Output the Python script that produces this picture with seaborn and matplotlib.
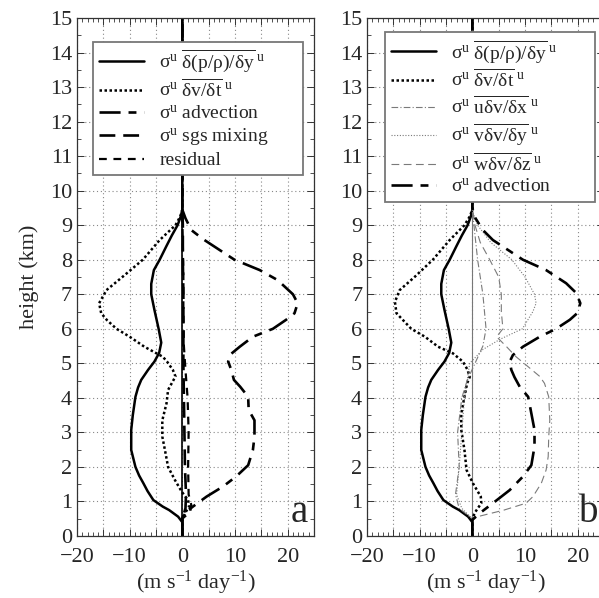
import matplotlib
matplotlib.use("Agg")
import matplotlib.pyplot as plt
from matplotlib.ticker import MultipleLocator, FuncFormatter
import seaborn as sns

# ---- budget profiles (m s-1 day-1) against height (km) ----
# pressure-gradient term (same profile in both panels)
h_pgf = [0, 0.4, 0.56, 0.75, 0.85, 1.04, 1.3, 1.53, 1.75, 2.0, 2.49, 3.07, 3.5, 4.03, 4.3,
         4.52, 4.81, 5.05, 5.3, 5.6, 6.0, 6.55, 7.0, 7.3, 7.7, 8.0, 8.4, 8.7, 9.0, 9.25, 9.45, 15]
pgf = [0, 0, -0.8, -2.5, -3.7, -5.5, -6.6, -7.4, -8.2, -8.9, -9.7, -9.7, -9.4, -8.9, -8.4,
       -7.8, -6.5, -5.3, -4.4, -4.0, -4.5, -5.3, -5.9, -5.9, -5.4, -4.3, -3.0, -2.0, -0.9, -0.3, 0, 0]

# panel a: tendency, advection, sgs mixing, residual
h_tend_a = [0, 0.47, 0.66, 0.85, 1.04, 1.28, 1.62, 2.0, 2.49, 2.88, 3.35, 3.84, 4.23, 4.62,
            4.81, 5.05, 5.19, 5.48, 5.77, 6.0, 6.25, 6.45, 6.74, 7.12, 7.51, 8.0, 8.57, 9.0,
            9.25, 9.45, 15]
tend_a = [0, 0, 0.5, 1.3, 1.1, -0.1, -1.4, -2.7, -3.3, -3.8, -3.8, -3.0, -2.7, -1.3,
          -1.8, -2.9, -3.7, -7.2, -10.0, -12.5, -14.3, -15.4, -15.8, -14.4, -11.3, -7.5, -4.3, -1.3,
          -0.4, 0, 0]

h_adv_a = [0, 0.52, 0.66, 0.85, 1.14, 1.43, 1.72, 2.05, 2.49, 2.88, 3.35, 3.65, 4.03, 4.32,
           4.52, 4.81, 5.05, 5.24, 5.48, 5.77, 6.0, 6.26, 6.45, 6.74, 7.0, 7.41, 7.7, 8.0, 8.28,
           8.6, 8.86, 9.2, 9.45, 15]
adv_a = [0, 0, 0.4, 2.0, 4.6, 7.7, 10.2, 12.5, 13.4, 13.7, 13.7, 12.6, 12.5, 11.0,
         9.8, 9.3, 8.7, 9.0, 10.9, 13.4, 17.2, 19.7, 21.3, 21.9, 21.0, 18.1, 14.7, 9.9, 7.1,
         3.9, 1.7, 0.6, 0, 0]

h_sgs = [0, 0.5, 0.8, 1.2, 2.0, 3.0, 4.0, 5.0, 6.0, 7.0, 8.0, 9.0, 9.5, 15]
sgs = [0, 0, 0.6, 0.7, 0.5, 0.4, 0.3, 0.2, 0.2, 0.2, 0.1, 0.1, 0, 0]

h_res = [0, 0.5, 0.7, 0.9, 1.2, 2.0, 3.0, 4.0, 4.8, 5.5, 6.5, 7.5, 8.5, 9.2, 9.5, 15]
res = [0, 0, 1.5, 1.7, 1.2, 1.1, 1.2, 1.0, 0.6, 0.3, 0.2, 0.2, 0.1, 0.0, 0, 0]

# panel b: tendency, advection and its three components
h_tend_b = [0, 0.47, 0.66, 0.95, 1.14, 1.53, 1.91, 2.49, 3.07, 3.55, 4.03, 4.42, 4.6, 4.81,
            5.05, 5.29, 5.48, 5.77, 6.0, 6.45, 6.78, 7.12, 7.51, 8.0, 8.57, 9.0, 9.25, 9.45, 15]
tend_b = [0, 0, 0.4, 1.7, 1.6, 0.1, -1.1, -1.5, -2.1, -2.1, -1.5, -1.0, -0.5, -0.9,
          -1.8, -3.7, -6.5, -9.0, -11.6, -14.4, -14.7, -13.8, -10.9, -7.5, -4.3, -1.5, -0.5, 0, 0]

h_adv_b = [0, 0.47, 0.66, 0.95, 1.33, 1.72, 2.05, 2.59, 3.07, 3.55, 4.03, 4.32, 4.6, 4.81,
           5.05, 5.24, 5.48, 5.77, 6.0, 6.26, 6.45, 6.74, 7.04, 7.32, 7.7, 8.0, 8.57, 8.86,
           9.2, 9.5, 15]
adv_b = [0, 0, 1.4, 3.9, 7.1, 9.6, 11.2, 11.8, 11.8, 11.2, 10.6, 9.0, 8.0, 7.4,
         7.1, 7.7, 9.6, 12.8, 15.9, 18.5, 19.9, 20.5, 19.7, 17.8, 14.0, 9.6, 3.9, 2.0,
         0.6, 0, 0]

h_uadv = [0, 0.5, 0.8, 1.2, 2.0, 3.0, 4.0, 4.5, 5.0, 5.5, 6.0, 7.0, 8.0, 9.0, 9.4, 15]
uadv = [0, 0, -2.5, -3.2, -2.5, -2.8, -2.0, -1.0, 0.5, 2.0, 2.6, 2.0, 1.0, 0.3, 0, 0]

h_vadv = [0, 0.5, 0.8, 1.2, 2.0, 3.0, 4.0, 4.5, 5.0, 5.4, 5.7, 6.0, 6.5, 6.74, 7.0, 7.5,
          8.0, 8.5, 9.0, 9.4, 15]
vadv = [0, 0, -2.0, -3.0, -2.5, -2.0, -1.5, -1.0, -0.5, 2.0, 5.3, 9.5, 11.5, 12.1, 11.8, 10.0,
        7.5, 3.5, 1.0, 0, 0]

h_wadv = [0, 0.45, 0.56, 0.75, 0.95, 1.14, 1.53, 1.91, 2.3, 2.88, 3.35, 4.03, 4.42, 4.62,
          4.9, 5.19, 5.48, 5.77, 6.0, 6.5, 7.0, 7.5, 8.0, 8.5, 9.0, 9.5, 15]
wadv = [0, 0, 1.0, 6.0, 10.2, 11.5, 13.1, 14.0, 14.4, 14.5, 14.7, 14.5, 13.7, 12.8,
        10.6, 8.3, 6.5, 4.6, 5.8, 5.5, 5.5, 5.0, 3.3, 1.5, 0.5, 0, 0]

# ---- style ----
sns.set_style("ticks")
plt.rcParams["font.family"] = ["Liberation Serif", "DejaVu Serif"]
plt.rcParams["mathtext.fontset"] = "custom"
plt.rcParams["mathtext.rm"] = "Liberation Serif"
plt.rcParams["mathtext.it"] = "Liberation Serif:italic"
plt.rcParams["mathtext.bf"] = "Liberation Serif:bold"

fig = plt.figure(figsize=(5.99, 5.98), dpi=100)
ax_a = fig.add_axes([0.1285, 0.1037, 0.3957, 0.8662])
ax_b = fig.add_axes([0.6127, 0.1037, 0.3957, 0.8662])

lbl_pgf = r"$\rm σ^{u}\ \overline{δ(p/ρ)/δy}^{\ u}$"
lbl_tend = r"$\rm σ^{u}\ \overline{δv/δt}^{\ u}$"
lbl_adv = r"$\rm σ^{u}$ advection"
lbl_sgs = r"$\rm σ^{u}$ sgs mixing"
lbl_u = r"$\rm σ^{u}\ \overline{uδv/δx}^{\ u}$"
lbl_v = r"$\rm σ^{u}\ \overline{vδv/δy}^{\ u}$"
lbl_w = r"$\rm σ^{u}\ \overline{wδv/δz}^{\ u}$"

THIN = "#7a7a7a"


def profile(ax, x, y, label, **kw):
    sns.lineplot(x=x, y=y, ax=ax, sort=False, estimator=None, label=label, **kw)
    return ax.get_lines()[-1]


def frame(ax, letter):
    ax.set_xlim(-20, 25)
    ax.set_ylim(0, 15)
    ax.xaxis.set_major_locator(MultipleLocator(5))
    ax.xaxis.set_minor_locator(MultipleLocator(1))
    ax.yaxis.set_major_locator(MultipleLocator(1))
    ax.yaxis.set_minor_locator(MultipleLocator(0.5))
    ax.xaxis.set_major_formatter(FuncFormatter(
        lambda v, p: ("\u2212%d" % abs(v) if v < 0 else "%d" % v) if int(round(v)) % 10 == 0 else ""))
    ax.tick_params(which="both", direction="in", top=True, right=True, labelsize=16,
                   color="#333333")
    ax.tick_params(axis="x", which="major", pad=9)
    ax.tick_params(which="major", length=5, width=0.7)
    ax.tick_params(which="minor", length=3, width=0.6)
    ax.grid(True, which="major", linestyle=(0, (1, 2.5)), color="#888888", linewidth=0.8)
    for s in ax.spines.values():
        s.set_color("#333333")
        s.set_linewidth(0.9)
    ax.set_xlabel(r"(m s$^{-1}$ day$^{-1}$)", fontsize=16, labelpad=1)
    ax.text(0.975, 0.01, letter, transform=ax.transAxes, ha="right", va="bottom",
            fontsize=28)


# panel a
ax_a.axvline(0, color="black", lw=1.2, zorder=1)
hs_a = [
    profile(ax_a, pgf, h_pgf, lbl_pgf, color="black", lw=1.8),
    profile(ax_a, tend_a, h_tend_a, lbl_tend, color="black", lw=1.8, linestyle=(0, (1, 1))),
    profile(ax_a, adv_a, h_adv_a, lbl_adv, color="black", lw=1.9, linestyle=(0, (8, 3, 3, 3))),
    profile(ax_a, sgs, h_sgs, lbl_sgs, color="black", lw=1.9, linestyle=(0, (6, 3))),
    profile(ax_a, res, h_res, "residual", color="black", lw=1.6, linestyle=(0, (3.5, 3))),
]
frame(ax_a, "a")
ax_a.set_ylabel("height (km)", fontsize=16, labelpad=8)

# panel b
ax_b.axvline(0, color="#777777", lw=0.8, zorder=1)
hs_b = [
    profile(ax_b, pgf, h_pgf, lbl_pgf, color="black", lw=1.8),
    profile(ax_b, tend_b, h_tend_b, lbl_tend, color="black", lw=1.8, linestyle=(0, (1, 1))),
    profile(ax_b, uadv, h_uadv, lbl_u, color=THIN, lw=0.8, linestyle=(0, (6, 2, 1, 2))),
    profile(ax_b, vadv, h_vadv, lbl_v, color=THIN, lw=0.8, linestyle=(0, (1, 1.5))),
    profile(ax_b, wadv, h_wadv, lbl_w, color=THIN, lw=0.8, linestyle=(0, (7, 4))),
    profile(ax_b, adv_b, h_adv_b, lbl_adv, color="black", lw=1.9, linestyle=(0, (8, 3, 3, 3))),
]
frame(ax_b, "b")
ax_b.set_ylabel("")

leg_kw = dict(fontsize=14, frameon=True, fancybox=False, handlelength=2.3,
              handletextpad=0.8, borderpad=0.3, labelspacing=0.2, borderaxespad=0,
              mode="expand")
la = ax_a.legend(hs_a, [h.get_label() for h in hs_a], loc="upper left",
                 bbox_to_anchor=(0.068, 0.707, 0.886, 0.247), **leg_kw)
lb = ax_b.legend(hs_b, [h.get_label() for h in hs_b], loc="upper left",
                 bbox_to_anchor=(0.076, 0.662, 0.884, 0.311), **leg_kw)
for lg in (la, lb):
    fr = lg.get_frame()
    fr.set_edgecolor("#777777")
    fr.set_linewidth(1.3)
    fr.set_alpha(1)

fig.savefig("out.png", dpi=100)
